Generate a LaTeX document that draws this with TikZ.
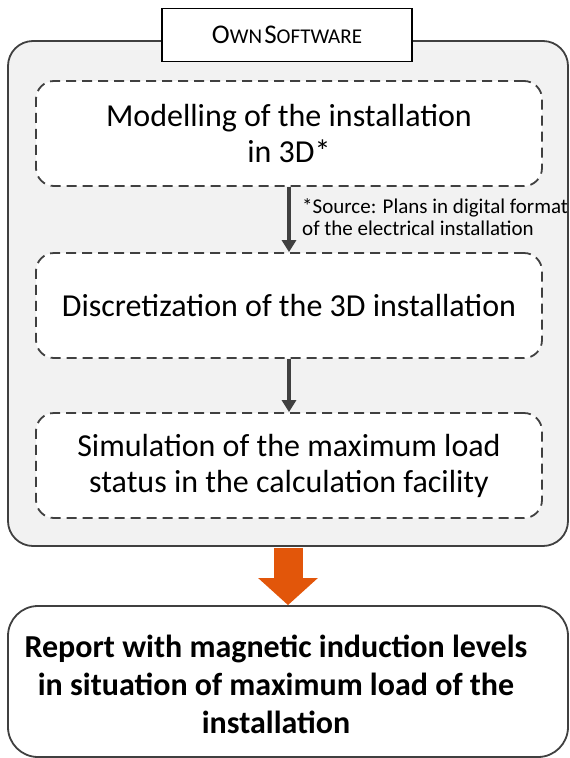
\documentclass[tikz,border=0pt]{standalone}
\usepackage{fontspec}
\setmainfont{Carlito}
\usetikzlibrary{arrows.meta,positioning}
\definecolor{boxgray}{HTML}{F2F2F2}
\definecolor{linegray}{HTML}{404040}
\definecolor{fireorange}{HTML}{E2560A}
\tikzset{
  stagebox/.style={draw=linegray, line width=1.8pt, dash pattern=on 10pt off 6pt,
    rounded corners=18pt, fill=white, minimum width=506pt, minimum height=105pt,
    align=center, font=\fontsize{32}{36}\selectfont},
  flowarrow/.style={draw=linegray, line width=4pt, -{Triangle[width=14pt,length=12pt]}},
}
\begin{document}
\begin{tikzpicture}[x=1pt,y=-1pt]
\useasboundingbox (0,0) rectangle (570,758);
% outer frame and its title
\node (own) at (288,293.5)[draw=linegray, line width=1.8pt, fill=boxgray, rounded corners=25pt,
  minimum width=560pt, minimum height=505pt]{};
\node (title) at (287,35)[draw=black, line width=1.5pt, fill=white, minimum width=250pt, minimum height=53pt]
  {{\fontsize{27}{27}\selectfont O}{\fontsize{21}{21}\selectfont WN} {\fontsize{27}{27}\selectfont S}{\fontsize{21}{21}\selectfont OFTWARE}};
% the three stages
\node (model) at (289,133.5)[stagebox]{Modelling of the installation\\in 3D*};
\node (discr) at (289,305.5)[stagebox]{Discretization of the 3D installation};
\node (simul) at (289,465.5)[stagebox]{Simulation of the maximum load\\status in the calculation facility};
\draw[flowarrow] (model)--(discr);
\draw[flowarrow] (discr)--(simul);
\begin{scope}
\clip (own.north west) rectangle ([xshift=-1.5pt]own.south east);
\node (source) at (302,198)[anchor=north west, inner sep=0pt, align=left, font=\fontsize{21}{22}\selectfont]
  {*Source: Plans in digital format\\of the electrical installation};
\end{scope}
% result
\node (report) at (288,681.5)[draw=linegray, line width=1.8pt, fill=white, rounded corners=30pt,
  minimum width=560pt, minimum height=151pt]{};
\node (reporttext) at (276,684)[align=center, font=\bfseries\fontsize{32}{38}\selectfont]
  {Report with magnetic induction levels\\in situation of maximum load of the\\installation};
\draw[fireorange, line width=29pt, shorten <=1pt, -{Triangle[width=58pt,length=27pt]}] (own.south)--(report.north);
\end{tikzpicture}
\end{document}
